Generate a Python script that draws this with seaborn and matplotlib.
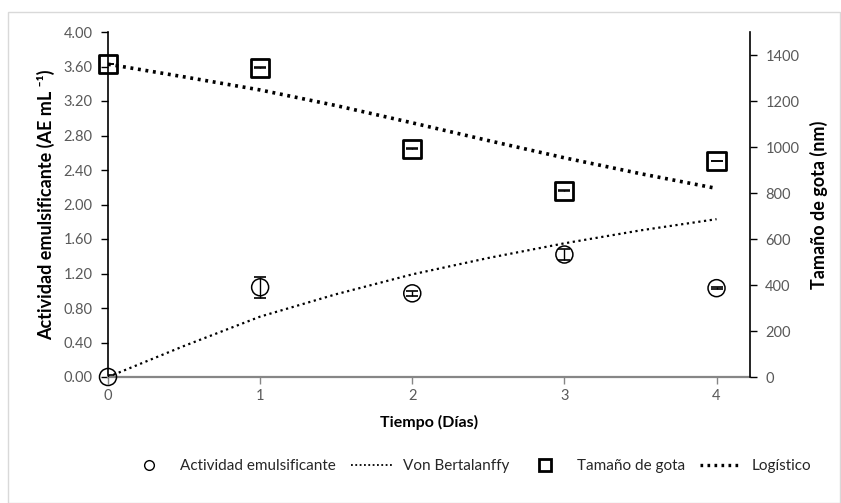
import numpy as np
import pandas as pd
import matplotlib
matplotlib.use("Agg")
import matplotlib.pyplot as plt
import seaborn as sns
from matplotlib.lines import Line2D
from matplotlib.patches import Rectangle

sns.set_style("white")
plt.rcParams['font.family'] = ['Lato', 'DejaVu Sans']

# ---- data ----
dias = [0, 1, 2, 3, 4]
actividad = [0.00, 1.04, 0.97, 1.42, 1.03]
actividad_err = [0.02, 0.12, 0.03, 0.06, 0.01]
tamano = [1360, 1345, 993, 810, 940]
tamano_err = [1, 1, 1, 1, 1]

t_modelo = [0, 0.5, 1, 1.5, 2, 2.5, 3, 3.5, 4]
von_bertalanffy = [0.00, 0.36, 0.70, 0.96, 1.19, 1.38, 1.55, 1.70, 1.83]
logistico = [1360, 1305, 1248, 1180, 1105, 1028, 953, 884, 820]

xticks = [0, 1, 2, 3, 4]
yticks_left = [0.0, 0.4, 0.8, 1.2, 1.6, 2.0, 2.4, 2.8, 3.2, 3.6, 4.0]
yticks_right = [0, 200, 400, 600, 800, 1000, 1200, 1400]

df_act = pd.DataFrame({"dia": dias, "val": actividad})
df_tam = pd.DataFrame({"dia": dias, "val": tamano})
df_vb = pd.DataFrame({"t": t_modelo, "val": von_bertalanffy})
df_lg = pd.DataFrame({"t": t_modelo, "val": logistico})

fig = plt.figure(figsize=(8.41, 5.03), dpi=100)
fig.patches.append(Rectangle((8/841, 0.5/503), 832/841, 491/503, transform=fig.transFigure,
                             fill=False, edgecolor="#d9d9d9", lw=1))
ax = fig.add_axes([108/841, 1 - 377/503, (750 - 108)/841, (377 - 32)/503])
ax2 = ax.twinx()

grey = "#595959"

# left axis: activity
sns.lineplot(data=df_vb, x="t", y="val", ax=ax, color="black", lw=1.6,
             linestyle=(0, (1, 1.6)), legend=False)
ax.errorbar(dias, actividad, yerr=actividad_err, fmt="none", ecolor="black",
            elinewidth=1, capsize=4, capthick=1.2, zorder=3)
sns.scatterplot(data=df_act, x="dia", y="val", ax=ax, marker="o", s=150,
                facecolor="none", edgecolor="black", linewidth=1.1, zorder=4,
                legend=False, clip_on=False)

# right axis: size
sns.lineplot(data=df_lg, x="t", y="val", ax=ax2, color="black", lw=2.6,
             linestyle=(0, (0.8, 1.3)), legend=False)
ax2.errorbar(dias, tamano, yerr=tamano_err, fmt="none", ecolor="black",
             elinewidth=1, capsize=4, capthick=1.1, zorder=3)
sns.scatterplot(data=df_tam, x="dia", y="val", ax=ax2, marker="s", s=170,
                facecolor="none", edgecolor="black", linewidth=2, zorder=4,
                legend=False, clip_on=False)

ax.set_xlim(0, 4.22)
ax.set_ylim(0, 4.0)
ax2.set_ylim(0, 1500)
ax.set_xticks(xticks)
ax.set_xticklabels([str(v) for v in xticks])
ax.set_yticks(yticks_left)
ax.set_yticklabels([f"{v:.2f}" for v in yticks_left])
ax2.set_yticks(yticks_right)
ax2.set_yticklabels([str(v) for v in yticks_right])

for a in (ax, ax2):
    a.set_facecolor("none")
    a.spines["top"].set_visible(False)
    a.spines["left"].set_color("black")
    a.spines["right"].set_color("black")
    a.spines["bottom"].set_color("#868686")
    a.spines["left"].set_linewidth(1.2)
    a.spines["right"].set_linewidth(1.2)
    a.spines["bottom"].set_linewidth(1.6)
ax.spines["right"].set_visible(False)
ax2.spines["left"].set_visible(False)
ax2.spines["bottom"].set_visible(False)

ax.tick_params(axis="y", direction="out", length=5, width=1, color="black",
               labelsize=10.5, labelcolor=grey, pad=6, left=True)
ax.tick_params(axis="x", direction="out", length=5, width=1, color="#868686",
               labelsize=10.5, labelcolor=grey, pad=4, bottom=True)
ax2.tick_params(axis="y", direction="out", length=5, width=1, color="black",
                labelsize=10.5, labelcolor=grey, pad=6, right=True)

ax.set_xlabel("Tiempo (Días)", fontsize=11.5, fontweight="bold", color="black", labelpad=8)
ax.set_ylabel("Actividad emulsificante (AE mL ⁻¹)", fontsize=13, fontweight="bold",
              color="black", labelpad=6)
ax2.set_ylabel("Tamaño de gota (nm)", fontsize=13, fontweight="bold", color="black",
               labelpad=8)

handles = [
    Line2D([], [], marker="o", ls="none", mfc="none", mec="black", ms=7, mew=1),
    Line2D([], [], color="black", lw=1.3, ls=(0, (1, 1.4))),
    Line2D([], [], marker="s", ls="none", mfc="none", mec="black", ms=9, mew=2),
    Line2D([], [], color="black", lw=2.4, ls=(0, (0.8, 1.3))),
]
labels = ["Actividad emulsificante", "Von Bertalanffy", "Tamaño de gota", "Logístico"]
fig.legend(handles, labels, loc="center", bbox_to_anchor=(470/841, 1 - 466/503),
           ncol=4, frameon=False, fontsize=11, handlelength=2.7, columnspacing=1.0,
           handletextpad=0.7)

fig.savefig("out.png", dpi=100)
